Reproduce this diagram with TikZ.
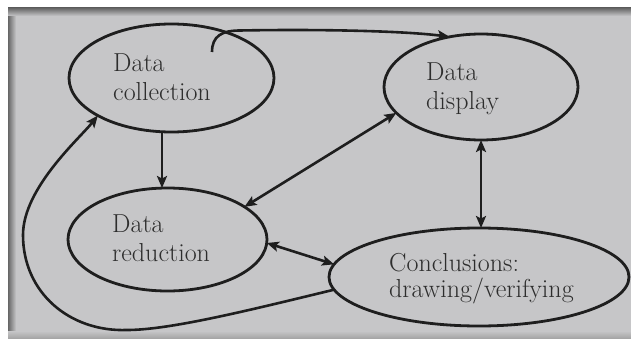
\documentclass[tikz,border=0pt]{standalone}
\usetikzlibrary{arrows.meta,shapes.geometric}
\definecolor{page}{RGB}{198,198,200}
\definecolor{ink}{RGB}{30,30,30}
\definecolor{txt}{RGB}{45,45,45}
\begin{document}
\begin{tikzpicture}[x=1pt,y=1pt,
  ell/.style={draw=ink,line width=2.8pt,ellipse,inner sep=0pt,outer sep=0pt},
  lbl/.style={text=txt,font=\fontsize{26}{28.5}\selectfont,align=left,anchor=base west,inner sep=0pt},
  con/.style={draw=ink,line width=2.6pt},
  >={Stealth[length=12pt,width=10pt,inset=2.5pt]}]
\useasboundingbox (0,0) rectangle (631,338);
\fill[white] (0,0) rectangle (631,338);
\fill[page] (8,0) rectangle (631,330);
\shade[left color=black!60,right color=page] (8,0) rectangle (16,330);
\shade[top color=black!60,bottom color=page] (8,322) rectangle (631,330);
\shade[bottom color=black!35,top color=page] (8,0) rectangle (631,7);
% ellipses
\node[ell,minimum width=205pt,minimum height=108pt] (dc) at (171.5,260) {};
\node[ell,minimum width=194pt,minimum height=106pt] (dd) at (481,251) {};
\node[ell,minimum width=199pt,minimum height=103pt] (dr) at (167.5,98.5) {};
\node[ell,minimum width=300pt,minimum height=98pt] (cc) at (479,61) {};
% labels (anchored at the baseline of the last line)
\node[lbl] (dct) at (113,238) {Data\\collection};
\node[lbl] (ddt) at (426,229) {Data\\display};
\node[lbl] (drt) at (112,77) {Data\\reduction};
\node[lbl,font=\fontsize{26}{26}\selectfont] (cct) at (389,41) {Conclusions:\\drawing/verifying};
% connectors
\draw[con,->] ([xshift=-9.5pt]dc.south) -- ([xshift=-5.5pt]dr.north);
\draw[con,<->] (dd.197) -- (dr.23);
\draw[con,<->] (dd.south) -- (dd.south |- cc.north);
\draw[con,<->] (dr.-2) -- (cc.175);
\draw[con,->] ([shift={(40.5pt,26pt)}]dc.center) .. controls (212,302) and (222,307.5) .. (240,307.5)
   .. controls (320,309) and (405,307) .. (dd.122);
\draw[con,->] (cc.185) .. controls (250,28) and (170,8) .. (127,8)
   .. controls (70,6) and (23,45) .. (23,103)
   .. controls (23,150) and (80,200) .. (dc.207);
\end{tikzpicture}
\end{document}
